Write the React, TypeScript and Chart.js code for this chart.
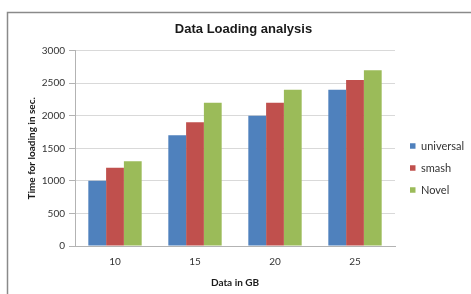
import React, { useEffect, useRef } from "react";
import { Chart, registerables } from "chart.js";

Chart.register(...registerables);

const categories = ["10", "15", "20", "25"];
const universalValues = [1000, 1700, 2000, 2400];
const smashValues = [1200, 1900, 2200, 2550];
const novelValues = [1300, 2200, 2400, 2700];
const seriesNames = ["universal", "smash", "Novel"];
const seriesColors = ["#4F81BD", "#C0504D", "#9BBB59"];
const chartTitle = "Data Loading analysis";
const xTitle = "Data in GB";
const yTitle = "Time for loading in sec.";
const yMin = 0;
const yMax = 3000;
const yStep = 500;

const framePlugin = {
  id: "frame",
  beforeDraw(chart: any) {
    const ctx = chart.ctx;
    ctx.save();
    ctx.strokeStyle = "#8a8a8a";
    ctx.lineWidth = 1.5;
    ctx.beginPath();
    ctx.moveTo(7.5, chart.height);
    ctx.lineTo(7.5, 12.5);
    ctx.lineTo(chart.width, 12.5);
    ctx.stroke();
    ctx.restore();
  },
};

const legendTweak = {
  id: "legendTweak",
  beforeLayout(chart: any) {
    const lg = chart.legend;
    if (lg && !lg.__patched) {
      const orig = lg.fit;
      lg.fit = function () {
        orig.call(this);
        this.width = 76;
      };
      lg.__patched = true;
    }
  },
  afterLayout(chart: any) {
    const lg = chart.legend;
    if (lg) {
      lg.left += 4;
      lg.right += 4;
      lg.top += 21;
      lg.bottom += 21;
    }
  },
};

export default function App() {
  const ref = useRef<HTMLCanvasElement>(null);
  useEffect(() => {
    if (!ref.current) return;
    const data = [universalValues, smashValues, novelValues];
    const chart = new Chart(ref.current, {
      type: "bar",
      data: {
        labels: categories,
        datasets: seriesNames.map((name, i) => ({
          label: name,
          data: data[i],
          backgroundColor: seriesColors[i],
          borderWidth: 0,
          categoryPercentage: 0.667,
          barPercentage: 1,
        })),
      },
      options: {
        responsive: false,
        animation: false,
        devicePixelRatio: 1,
        layout: { padding: { left: 16, right: 0, top: 0, bottom: 0 } },
        font: { family: "Lato" },
        plugins: {
          title: {
            display: true,
            text: chartTitle,
            color: "#1a1a1a",
            font: { family: "Liberation Sans", size: 13, weight: "bold" },
            padding: { top: 22, bottom: 13 },
          },
          legend: {
            position: "right",
            align: "center",
            labels: {
              boxWidth: 5.5,
              boxHeight: 5.5,
              padding: 11,
              color: "#333333",
              font: { family: "Lato", size: 11 },
            },
          },
          tooltip: { enabled: false },
        },
        scales: {
          x: {
            grid: { display: false, drawTicks: false },
            border: { display: true, color: "#b3b3b3" },
            ticks: {
              padding: 10,
              color: "#333333",
              font: { family: "Lato", size: 10 },
            },
            title: {
              display: true,
              text: xTitle,
              color: "#1a1a1a",
              font: { family: "Lato", size: 10, weight: "bold" },
              padding: { top: 0, bottom: 5 },
            },
            afterFit(scale: any) {
              scale.height = 48;
            },
          },
          y: {
            min: yMin,
            max: yMax,
            grid: {
              color: "#d9d9d9",
              tickColor: "#b3b3b3",
              tickLength: 6,
            },
            border: { display: true, color: "#b3b3b3" },
            ticks: {
              stepSize: yStep,
              padding: 4,
              color: "#333333",
              font: { family: "Lato", size: 10 },
              callback: (v: any) => String(v),
            },
            title: {
              display: true,
              text: yTitle,
              color: "#1a1a1a",
              font: { family: "Lato", size: 10, weight: "bold" },
              padding: { top: 10, bottom: 0 },
            },
            afterFit(scale: any) {
              scale.width = 59;
            },
          },
        },
      },
      plugins: [framePlugin, legendTweak],
    } as any);
    return () => chart.destroy();
  }, []);
  return (
    <div style={{ position: "absolute", left: 0, top: 0, width: 471, height: 294, background: "#fff" }}>
      <canvas ref={ref} width={471} height={294} style={{ display: "block" }} />
    </div>
  );
}
